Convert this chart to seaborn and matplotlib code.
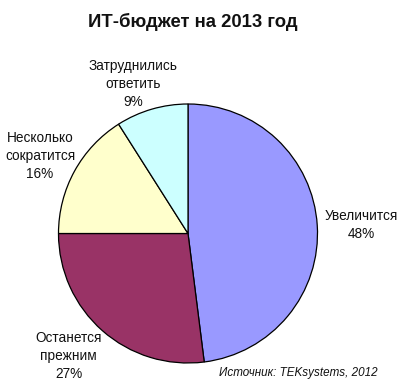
import matplotlib
matplotlib.use("Agg")
import matplotlib.pyplot as plt
import seaborn as sns

categories = ["Увеличится", "Останется\nпрежним", "Несколько\nсократится", "Затруднились\nответить"]
values = [48, 27, 16, 9]
colors = ["#9999FF", "#993366", "#FFFFCC", "#CCFFFF"]
title = "ИТ-бюджет на 2013 год"
source = "Источник: TEKsystems, 2012"

sns.set_theme(style="white")
plt.rcParams["font.family"] = ["Liberation Sans", "DejaVu Sans"]

fig = plt.figure(figsize=(4.0, 3.89), dpi=100)
W, H = 400, 389
cx, cy, r = 188, 233.5, 129.5
ax = fig.add_axes([(cx - r) / W, (H - cy - r) / H, 2 * r / W, 2 * r / H])
wedges, _ = ax.pie(values, colors=colors, startangle=90, counterclock=False,
                   wedgeprops=dict(edgecolor="black", linewidth=0.9))
ax.set_xlim(-1, 1)
ax.set_ylim(-1, 1)
ax.set_aspect("equal")
ax.axis("off")

label_pos = [(361, 225), (68.5, 356), (40, 156), (133, 84)]
for (x, y), cat, v in zip(label_pos, categories, values):
    fig.text(x / W, 1 - y / H, f"{cat}\n{v}%", ha="center", va="center",
             fontsize=9.8, linespacing=1.36, color="#111111")

fig.text(193 / W, 1 - 22 / H, title, ha="center", va="center",
         fontsize=13.3, fontweight="bold", color="#111111")
fig.text(298 / W, 1 - 373 / H, source, ha="center", va="center",
         fontsize=8.4, style="italic", color="#111111")

fig.savefig("out.png", dpi=100, facecolor="white")
